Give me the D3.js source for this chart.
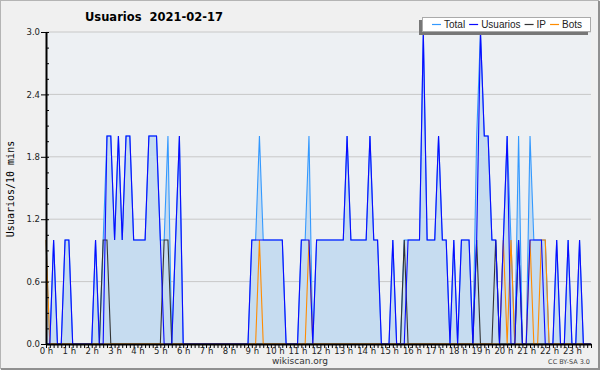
<!DOCTYPE html>
<html>
<head>
<meta charset="utf-8">
<script src="https://cdnjs.cloudflare.com/ajax/libs/d3/7.8.5/d3.min.js"></script>
<style>
  body { margin: 0; background: #fff; }
  svg { display: block; font-family: "DejaVu Sans", sans-serif; }
</style>
</head>
<body>
<div id="chart"></div>
<script>
var title = "Usuarios  2021-02-17";
var yLabel = "Usuarios/10 mins";
var seriesNames = ["Total", "Usuarios", "IP", "Bots"];
var seriesColors = ["#3399ff", "#0a0aff", "#333333", "#ff8c00"];
var yTicks = [0, 0.6, 1.2, 1.8, 2.4, 3.0];
var hourLabels = ["0 h", "1 h", "2 h", "3 h", "4 h", "5 h", "6 h", "7 h", "8 h", "9 h", "10 h", "11 h",
  "12 h", "13 h", "14 h", "15 h", "16 h", "17 h", "18 h", "19 h", "20 h", "21 h", "22 h", "23 h"];

// one value every 10 minutes, one row per hour
var total = [
  1,0,1,0,0,1,  1,0,0,0,0,0,  0,1,0,1,2,2,  1,2,1,2,2,1,
  1,1,1,2,2,2,  1,1,2,0,1,2,  0,0,0,0,0,0,  0,0,0,0,0,0,
  0,0,0,0,0,0,  1,1,2,1,1,1,  1,1,1,0,0,0,  0,1,1,2,0,1,
  1,1,1,1,1,1,  1,2,1,1,1,1,  1,2,1,1,0,0,  0,1,0,0,1,1,
  1,1,1,3,1,1,  1,2,1,1,0,1,  0,1,1,1,0,2,  3,2,2,1,1,0,
  1,2,1,0,2,0,  0,2,1,1,1,1,  0,0,1,0,0,1,  0,0,1,0,0,0
];
var usuarios = [
  0,0,1,0,0,1,  1,0,0,0,0,0,  0,1,0,0,2,2,  1,2,1,2,2,1,
  1,1,1,2,2,2,  1,0,0,0,1,2,  0,0,0,0,0,0,  0,0,0,0,0,0,
  0,0,0,0,0,0,  1,1,1,1,1,1,  1,1,1,0,0,0,  0,1,1,1,0,1,
  1,1,1,1,1,1,  1,2,1,1,1,1,  1,2,1,1,0,0,  0,1,0,0,0,1,
  1,1,1,3,1,1,  1,2,1,1,0,1,  0,1,1,1,0,1,  3,2,2,1,1,0,
  1,2,0,0,1,0,  0,1,1,1,1,0,  0,0,1,0,0,1,  0,0,1,0,0,0
];
var ip = [
  0,0,0,0,0,0,  0,0,0,0,0,0,  0,0,0,1,1,0,  0,0,0,0,0,0,
  0,0,0,0,0,0,  0,1,1,0,0,0,  0,0,0,0,0,0,  0,0,0,0,0,0,
  0,0,0,0,0,0,  0,0,0,0,0,0,  0,0,0,0,0,0,  0,0,0,0,0,0,
  0,0,0,0,0,0,  0,0,0,0,0,0,  0,0,0,0,0,0,  0,0,0,0,1,0,
  0,0,0,0,0,0,  0,0,0,0,0,0,  0,0,0,0,0,1,  0,0,0,0,1,0,
  0,0,0,0,1,0,  0,0,0,0,0,0,  0,0,0,0,0,0,  0,0,0,0,0,0
];
var bots = [
  1,0,0,0,0,0,  0,0,0,0,0,0,  0,0,0,0,0,0,  0,0,0,0,0,0,
  0,0,0,0,0,0,  0,0,0,0,0,0,  0,0,0,0,0,0,  0,0,0,0,0,0,
  0,0,0,0,0,0,  0,0,1,0,0,0,  0,0,0,0,0,0,  0,0,0,1,0,0,
  0,0,0,0,0,0,  0,0,0,0,0,0,  0,0,0,0,0,0,  0,0,0,0,0,0,
  0,0,0,0,0,0,  0,0,0,0,0,0,  0,0,0,0,0,0,  0,0,0,0,0,0,
  1,0,1,0,0,0,  0,1,0,0,1,1,  0,0,0,0,0,0,  0,0,0,0,0,0
];

var width = 600, height = 370;
var margin = { top: 32, left: 46, right: 9, bottom: 26 };

var svg = d3.select("#chart").append("svg")
            .attr("width", width)
            .attr("height", height);

svg.append("rect")
   .attr("width", width)
   .attr("height", height)
   .attr("fill", "#f0f0f0");

svg.append("rect")
   .attr("x", 0.5).attr("y", 0.5)
   .attr("width", width - 2).attr("height", height - 2)
   .attr("fill", "none")
   .attr("stroke", "#b4b4b4");
svg.append("path")
   .attr("d", "M" + (width - 1) + ",1V" + (height - 1) + "H1")
   .attr("fill", "none")
   .attr("stroke", "#909090")
   .attr("stroke-width", 2);

var x = d3.scaleLinear()
          .domain([0, 1430])
          .range([margin.left, width - margin.right]);

var y = d3.scaleLinear()
          .domain([0, 3])
          .range([height - margin.bottom, margin.top]);

var xi = (d, i) => x(i * 10);

// plot background
svg.append("rect")
   .attr("x", x(0)).attr("y", y(3))
   .attr("width", x(1430) - x(0))
   .attr("height", y(0) - y(3))
   .attr("fill", "#edf0f3");

svg.selectAll("line.grid")
   .data(yTicks.filter(d => d > 0))
   .enter().append("line")
   .attr("class", "grid")
   .attr("x1", x(0)).attr("x2", x(1430))
   .attr("y1", d => y(d)).attr("y2", d => y(d))
   .attr("stroke", "#c8c8c8")
   .attr("stroke-width", 1);

var area = d3.area()
             .x(xi)
             .y0(y(0))
             .y1(d => y(d));

svg.append("path")
   .datum(total)
   .attr("d", area)
   .attr("fill", "#c6dcf0");

var line = d3.line().x(xi).y(d => y(d));

// draw order: total, ip, bots, then usuarios on top
[[total, 0], [ip, 2], [bots, 3], [usuarios, 1]].forEach(p => {
  svg.append("path")
     .datum(p[0])
     .attr("d", line)
     .attr("fill", "none")
     .attr("stroke", seriesColors[p[1]])
     .attr("stroke-width", 1.1);
});

// x axis
var xAxis = d3.axisBottom(x)
              .tickValues(d3.range(0, 1440, 10))
              .tickSize(4)
              .tickSizeOuter(0)
              .tickPadding(0)
              .tickFormat(m => m % 60 === 0 ? hourLabels[m / 60] : "");

var gx = svg.append("g")
            .attr("transform", "translate(0," + y(0) + ")")
            .call(xAxis);
gx.select(".domain").attr("stroke", "#000").attr("stroke-width", 2);
gx.selectAll(".tick line").attr("stroke", "#000");
gx.selectAll(".tick text")
  .attr("font-family", "DejaVu Sans")
  .attr("font-size", 8.5)
  .attr("fill", "#222");

// y axis
var yAxis = d3.axisLeft(y)
              .tickValues(yTicks)
              .tickSize(5)
              .tickSizeOuter(0)
              .tickPadding(1)
              .tickFormat(d3.format(".1f"));

var gy = svg.append("g")
            .attr("transform", "translate(" + x(0) + ",0)")
            .call(yAxis);
gy.select(".domain").attr("stroke", "#000").attr("stroke-width", 2);
gy.selectAll(".tick line").attr("stroke", "#000");
gy.selectAll(".tick text")
  .attr("font-family", "DejaVu Sans")
  .attr("font-size", 8.5)
  .attr("fill", "#222");

var gMinor = svg.append("g")
                .attr("transform", "translate(" + x(0) + ",0)")
                .call(d3.axisRight(y).tickValues(d3.range(0, 3.01, 0.15)).tickSize(3).tickSizeOuter(0).tickFormat(""));
gMinor.select(".domain").remove();
gMinor.selectAll(".tick line").attr("stroke", "#000");

// titles
svg.append("text")
   .attr("x", 85)
   .attr("y", 21)
   .attr("font-family", "DejaVu Sans")
   .attr("font-weight", "bold")
   .attr("font-size", 11.5)
   .attr("fill", "#000")
   .attr("xml:space", "preserve")
   .text(title);

svg.append("text")
   .attr("transform", "translate(14," + ((y(0) + y(3)) / 2 + 1) + ") rotate(-90)")
   .attr("text-anchor", "middle")
   .attr("font-family", "DejaVu Sans Mono")
   .attr("font-size", 10)
   .attr("fill", "#000")
   .text(yLabel);

svg.append("text")
   .attr("x", width / 2)
   .attr("y", 364)
   .attr("text-anchor", "middle")
   .attr("font-family", "DejaVu Sans")
   .attr("font-size", 9)
   .attr("fill", "#333")
   .text("wikiscan.org");

svg.append("text")
   .attr("x", 590)
   .attr("y", 364)
   .attr("text-anchor", "end")
   .attr("font-family", "DejaVu Sans")
   .attr("font-size", 6.5)
   .attr("fill", "#444")
   .text("CC BY-SA 3.0");

// legend
var legend = svg.append("g").attr("class", "legend");
var lx = 422, ly = 17, lw = 169, lh = 15;

legend.append("rect")
      .attr("x", lx - 3).attr("y", ly + 3)
      .attr("width", lw).attr("height", lh)
      .attr("fill", "#777");
legend.append("rect")
      .attr("x", lx + 0.5).attr("y", ly + 0.5)
      .attr("width", lw - 1).attr("height", lh - 1)
      .attr("fill", "#fff")
      .attr("stroke", "#aaa");

var cx = lx + 10;
seriesNames.forEach((name, k) => {
  legend.append("line")
        .attr("x1", cx).attr("x2", cx + 9)
        .attr("y1", ly + 7.5).attr("y2", ly + 7.5)
        .attr("stroke", seriesColors[k])
        .attr("stroke-width", 1.2);
  var t = legend.append("text")
                .attr("x", cx + 12)
                .attr("y", ly + 11)
                .attr("font-family", "Liberation Sans")
                .attr("font-size", 10)
                .attr("fill", "#222")
                .text(name);
  cx += 12 + t.node().getComputedTextLength() + 4;
});
</script>
</body>
</html>
